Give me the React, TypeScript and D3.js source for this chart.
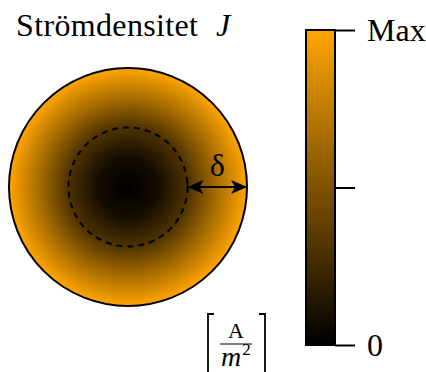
import React, { useEffect, useRef } from 'react';
import * as d3 from 'd3';

const W = 426;
const H = 372;

// colour at relative radius (0 = centre, 1 = edge) of the wire
const radialOffsets = [0, 0.25, 0.5, 0.75, 1];
const radialLevels = [0, 0.08, 0.3, 0.66, 1];

// colour bar ticks
const barTicks = [0, 0.5, 1];
const barLabels = ['0', '', 'Max'];

const titleText = 'Strömdensitet';
const deltaLabel = 'δ';

const ORANGE = '#ffa500';
const SERIF = "'Liberation Serif', 'Times New Roman', serif";

const App = () => {
    const ref = useRef<SVGSVGElement>(null);

    useEffect(() => {
        const svg = d3.select(ref.current);
        svg.selectAll('*').remove();

        const color = d3.scaleLinear<string>().domain([0, 1]).range(['#000000', ORANGE]);

        const defs = svg.append('defs');
        const rg = defs.append('radialGradient').attr('id', 'jgrad');
        rg.selectAll('stop')
            .data(radialOffsets)
            .enter()
            .append('stop')
            .attr('offset', d => d)
            .attr('stop-color', (d, i) => color(radialLevels[i]));

        const lg = defs.append('linearGradient').attr('id', 'bargrad')
            .attr('x1', 0).attr('y1', 1).attr('x2', 0).attr('y2', 0);
        lg.selectAll('stop')
            .data([0, 1])
            .enter()
            .append('stop')
            .attr('offset', d => d)
            .attr('stop-color', d => color(d));

        defs.append('marker')
            .attr('id', 'stealth')
            .attr('viewBox', '0 0 16 14')
            .attr('refX', 15)
            .attr('refY', 7)
            .attr('markerWidth', 16)
            .attr('markerHeight', 14)
            .attr('markerUnits', 'userSpaceOnUse')
            .attr('orient', 'auto-start-reverse')
            .append('path')
            .attr('d', 'M0,0 L16,7 L0,14 L4,7 Z')
            .attr('fill', '#000');

        // wire cross-section
        const cx = 128, cy = 187, R = 119;
        const rScale = d3.scaleLinear().domain([0, 1]).range([0, R]);

        svg.append('circle')
            .attr('cx', cx).attr('cy', cy).attr('r', rScale(1))
            .attr('fill', 'url(#jgrad)')
            .attr('stroke', '#000')
            .attr('stroke-width', 2);

        svg.append('circle')
            .attr('cx', cx).attr('cy', cy).attr('r', rScale(0.5))
            .attr('fill', 'none')
            .attr('stroke', '#000')
            .attr('stroke-width', 2)
            .attr('stroke-dasharray', '6,5');

        // skin depth arrow
        const x0 = cx + rScale(0.5), x1 = cx + rScale(1);
        svg.append('line')
            .attr('x1', x0 + 1).attr('y1', cy).attr('x2', x1 - 1).attr('y2', cy)
            .attr('stroke', '#000').attr('stroke-width', 2.2)
            .attr('marker-start', 'url(#stealth)')
            .attr('marker-end', 'url(#stealth)');
        svg.append('line')
            .attr('x1', x0).attr('y1', cy - 5).attr('x2', x0).attr('y2', cy + 5)
            .attr('stroke', '#000').attr('stroke-width', 1.5);
        svg.append('text')
            .attr('x', (x0 + x1) / 2).attr('y', 176)
            .attr('text-anchor', 'middle')
            .style('font-family', SERIF)
            .style('font-size', '32px')
            .text(deltaLabel);

        // title
        const title = svg.append('text')
            .attr('x', 16).attr('y', 36)
            .style('font-family', SERIF)
            .style('font-size', '32px');
        title.append('tspan').attr('textLength', 182).text(titleText);
        title.append('tspan')
            .attr('x', 216)
            .style('font-style', 'italic')
            .text('J');

        // colour bar
        const bx = 306, bw = 29;
        const y = d3.scaleLinear().domain([0, 1]).range([345, 30]);

        svg.append('rect')
            .attr('x', bx).attr('y', y(1))
            .attr('width', bw).attr('height', y(0) - y(1))
            .attr('fill', 'url(#bargrad)')
            .attr('stroke', '#000')
            .attr('stroke-width', 2);

        const axis = d3.axisRight(y)
            .tickValues(barTicks)
            .tickSize(20)
            .tickPadding(12)
            .tickFormat((d, i) => barLabels[i]);

        const g = svg.append('g')
            .attr('transform', `translate(${bx + bw},0)`)
            .call(axis);
        g.select('.domain').remove();
        g.selectAll('line').attr('stroke', '#000').attr('stroke-width', 2);
        g.attr('font-family', null).attr('font-size', null);
        g.selectAll('text')
            .style('font-family', SERIF)
            .style('font-size', '32px')
            .attr('fill', '#000')
            .attr('dy', '0.32em');

        // unit [A / m^2]
        const u = svg.append('g');
        u.append('path')
            .attr('d', 'M214,314 L208,314 L208,380')
            .attr('fill', 'none').attr('stroke', '#000').attr('stroke-width', 1.8);
        u.append('path')
            .attr('d', 'M259,314 L265,314 L265,380')
            .attr('fill', 'none').attr('stroke', '#000').attr('stroke-width', 1.8);
        u.append('text')
            .attr('x', 236).attr('y', 338)
            .attr('text-anchor', 'middle')
            .style('font-family', SERIF)
            .style('font-size', '22px')
            .text('A');
        u.append('line')
            .attr('x1', 220).attr('x2', 252).attr('y1', 344).attr('y2', 344)
            .attr('stroke', '#000').attr('stroke-width', 1);
        const m = u.append('text')
            .attr('x', 221).attr('y', 366)
            .style('font-family', SERIF)
            .style('font-size', '28px');
        m.append('tspan').style('font-style', 'italic').text('m');
        m.append('tspan').style('font-size', '17px').attr('dy', -11).attr('dx', 1).text('2');
    }, []);

    return (
        <svg ref={ref} width={W} height={H}
            style={{ position: 'absolute', left: 0, top: 0, background: '#fff' }} />
    );
};

export default App;
